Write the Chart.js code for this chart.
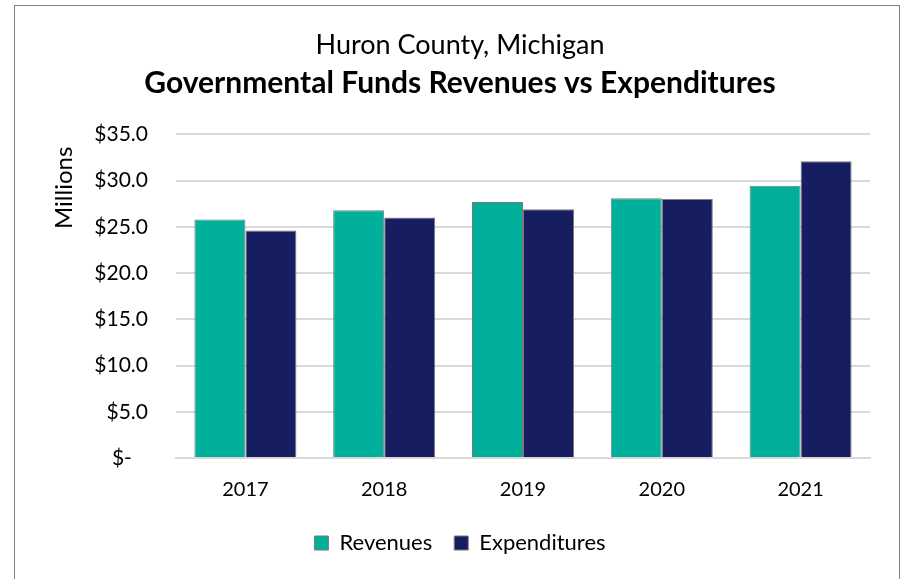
<!DOCTYPE html>
<html>
<head>
<meta charset="utf-8">
<script src="https://cdn.jsdelivr.net/npm/chart.js@4.4.1/dist/chart.umd.min.js"></script>
<style>
  html, body { margin: 0; padding: 0; background: #fff; }
  #wrap { position: relative; width: 902px; height: 579px; overflow: hidden; }
  #frame { position: absolute; left: 14px; top: 5px; width: 886px; height: 700px; border: 1px solid #808080; box-sizing: border-box; }
  #c { position: absolute; left: 0; top: 0; }
</style>
</head>
<body>
<div id="wrap">
  <div id="frame"></div>
  <canvas id="c" width="902" height="579"></canvas>
</div>
<script>
const years = ['2017', '2018', '2019', '2020', '2021'];
const revenues = [25.8, 26.8, 27.7, 28.1, 29.45];
const expenditures = [24.6, 26.0, 26.9, 28.0, 32.1];
const yTicks = [0, 5, 10, 15, 20, 25, 30, 35];
const titleLine1 = 'Huron County, Michigan';
const titleLine2 = 'Governmental Funds Revenues vs Expenditures';
const yAxisTitle = 'Millions';

const FONT = 'Lato, "Open Sans", sans-serif';
const PLOT_LEFT = 176;
const PAD_LEFT = 50;

new Chart(document.getElementById('c'), {
  type: 'bar',
  data: {
    labels: years,
    datasets: [
      { label: 'Revenues', data: revenues, backgroundColor: '#00B09B', borderColor: '#7a7a7a', borderWidth: 1 },
      { label: 'Expenditures', data: expenditures, backgroundColor: '#171D61', borderColor: '#7a7a7a', borderWidth: 1 }
    ]
  },
  options: {
    responsive: false,
    animation: false,
    devicePixelRatio: 1,
    layout: { padding: { left: PAD_LEFT, right: 32, top: 0, bottom: 15 } },
    datasets: { bar: { categoryPercentage: 0.735, barPercentage: 1.0 } },
    plugins: {
      title: {
        display: true, text: titleLine1, color: '#000',
        font: { family: FONT, size: 27, weight: 'normal', lineHeight: 1.2 },
        padding: { top: 29, bottom: 0 }
      },
      subtitle: {
        display: true, text: titleLine2, color: '#000',
        font: { family: FONT, size: 30, weight: 'bold', lineHeight: 1.2 },
        padding: { top: 4, bottom: 33 }
      },
      legend: {
        position: 'bottom',
        labels: {
          color: '#000', boxWidth: 14, boxHeight: 14, padding: 22,
          font: { family: FONT, size: 22 }
        }
      },
      tooltip: { enabled: false }
    },
    scales: {
      x: {
        afterFit: (scale) => { scale.height = 52; },
        grid: { display: false, drawTicks: false },
        border: { display: true, color: '#d9d9d9', width: 2 },
        ticks: { color: '#000', padding: 20, font: { family: FONT, size: 20 } }
      },
      y: {
        min: 0, max: 35,
        afterBuildTicks: (scale) => { scale.ticks = yTicks.map(v => ({ value: v })); },
        afterFit: (scale) => { scale.width = PLOT_LEFT - PAD_LEFT; },
        grid: { color: '#d9d9d9', lineWidth: 2, drawTicks: false },
        border: { display: false },
        title: {
          display: true, text: yAxisTitle + '  ', align: 'end', color: '#000',
          font: { family: FONT, size: 24 }, padding: 0
        },
        ticks: {
          color: '#000', padding: 28, font: { family: FONT, size: 21 },
          callback: (v) => v === 0 ? '$-   ' : '$' + Number(v).toFixed(1)
        }
      }
    }
  }
});
</script>
</body>
</html>
